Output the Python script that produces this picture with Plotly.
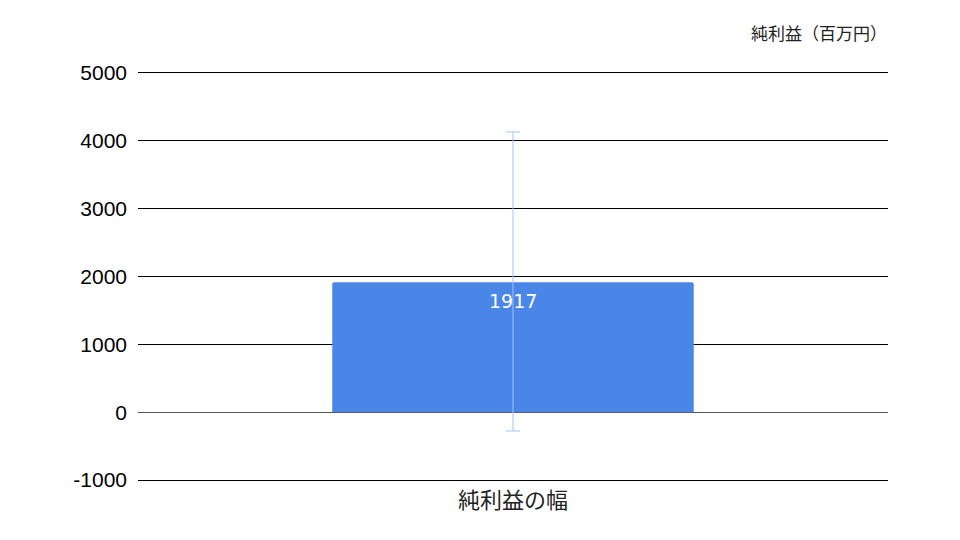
import plotly.graph_objects as go

categories = ["純利益の幅"]
values = [1917]
err_plus = [2214]
err_minus = [2194]
y_ticks = [-1000, 0, 1000, 2000, 3000, 4000, 5000]
y_tick_text = ["-1000", "0", "1000", "2000", "3000", "4000", "5000"]
title_text = "純利益（百万円）"

fig = go.Figure()
fig.add_trace(go.Bar(
    x=categories, y=values, width=0.482,
    marker=dict(color="#4a86e8", line=dict(width=0), cornerradius=2),
    error_y=dict(type="data", symmetric=False, array=err_plus, arrayminus=err_minus,
                 color="#a4c2f4", thickness=1, width=7),
))
for c, v in zip(categories, values):
    fig.add_annotation(x=c, y=v, text=str(v), showarrow=False,
                       xanchor="center", yanchor="top", yshift=-6,
                       font=dict(family="DejaVu Sans", size=19, color="white"))
fig.update_layout(
    width=960, height=540,
    margin=dict(l=130, r=80, t=65, b=68),
    paper_bgcolor="white", plot_bgcolor="white",
    showlegend=False,
    xaxis=dict(showgrid=False, showline=True, linecolor="#000000", linewidth=1,
               mirror=True, ticks="",
               tickfont=dict(family="Noto Sans CJK JP", size=22, color="#222"),
               ticklabelstandoff=1),
    yaxis=dict(range=[-1000, 5000], tickvals=y_ticks, ticktext=y_tick_text,
               showgrid=True, gridcolor="#000000", gridwidth=1,
               zeroline=True, zerolinecolor="#555555", zerolinewidth=1,
               showline=False, ticks="",
               tickfont=dict(family="Liberation Sans, Arial", size=21, color="#000"),
               ticklabelstandoff=10),
    annotations=list(fig.layout.annotations) + [dict(
        text=title_text, xref="paper", yref="paper",
        x=1.001, y=1.1, xanchor="right", yanchor="middle", showarrow=False,
        font=dict(family="Noto Sans CJK JP", size=17, color="#222"))],
)
fig.write_html("out.html")
